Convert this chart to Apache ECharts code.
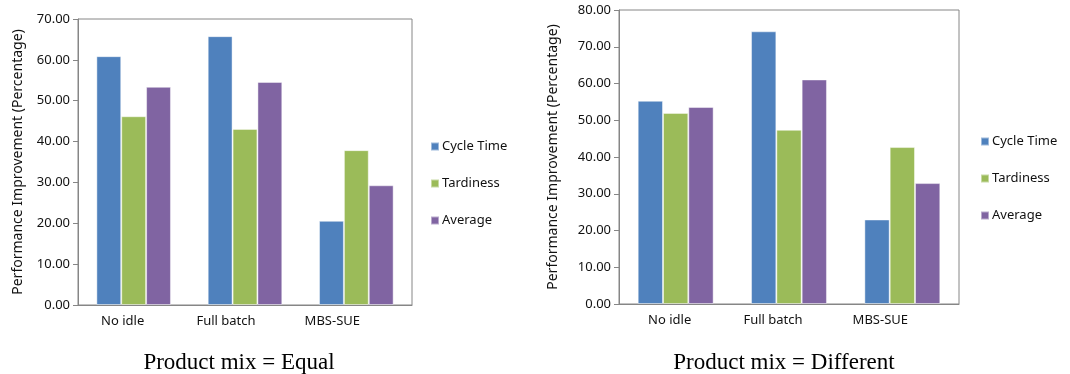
<!DOCTYPE html>
<html>
<head>
<meta charset="utf-8">
<script src="https://cdn.jsdelivr.net/npm/echarts@6/dist/echarts.min.js"></script>
<style>
  html, body { margin: 0; padding: 0; background: #fff; }
  #chart { width: 1070px; height: 374px; }
</style>
</head>
<body>
<div id="chart"></div>
<script>
// Heuristic categories and series shared by both panels
const categories = ['No idle', 'Full batch', 'MBS-SUE'];
const seriesNames = ['Cycle Time', 'Tardiness', 'Average'];
const seriesColors = ['#4F81BD', '#9BBB59', '#8064A2'];

// Product mix = Equal
const equalCycleTime = [60.9, 65.8, 20.6];
const equalTardiness = [46.2, 43.1, 37.9];
const equalAverage = [53.4, 54.6, 29.3];

// Product mix = Different
const diffCycleTime = [55.3, 74.2, 23.0];
const diffTardiness = [52.0, 47.4, 42.7];
const diffAverage = [53.6, 61.1, 32.9];

const panelTitles = ['Product mix = Equal', 'Product mix = Different'];
const yAxisTitle = 'Performance Improvement (Percentage)';

const axisColor = '#868686';
const textColor = '#111';
const textFont = '"Noto Sans", "Open Sans", sans-serif';

function yAxis(gridIndex, max, nameGap) {
  return {
    type: 'value', gridIndex, min: 0, max, interval: 10,
    name: yAxisTitle, nameLocation: 'middle', nameGap,
    nameTextStyle: { fontFamily: textFont, fontSize: 14, color: textColor },
    axisLine: { show: true, lineStyle: { color: axisColor } },
    axisTick: { show: true, length: 5, lineStyle: { color: axisColor } },
    splitLine: { show: false },
    axisLabel: { fontFamily: textFont, fontSize: 13, color: textColor, margin: 8,
                 formatter: v => v.toFixed(2) }
  };
}

// Category labels sit a little left of their bar groups; the right padding
// on each label pushes its centred text leftwards.
function xAxis(gridIndex, shifts) {
  const rich = {};
  shifts.forEach((s, i) => {
    rich['c' + i] = { fontFamily: textFont, fontSize: 13, color: textColor, padding: [0, 2 * s, 0, 0] };
  });
  return {
    type: 'category', gridIndex, data: categories,
    axisLine: { lineStyle: { color: axisColor } },
    axisTick: { show: false },
    axisLabel: { interval: 0, hideOverlap: false, fontFamily: textFont, fontSize: 13, color: textColor, margin: 10,
                 formatter: (v, i) => '{c' + i + '|' + v + '}', rich }
  };
}

function bars(values, idx, axisIndex) {
  return {
    type: 'bar', name: seriesNames[idx],
    xAxisIndex: axisIndex, yAxisIndex: axisIndex,
    data: values, barGap: '0%', barCategoryGap: '33%',
    itemStyle: { color: seriesColors[idx], borderColor: 'rgba(255,255,255,0.45)', borderWidth: 1 }
  };
}

function legend(left, top) {
  return {
    orient: 'vertical', left, top, data: seriesNames,
    icon: 'rect', itemWidth: 8, itemHeight: 8, itemGap: 24,
    selectedMode: false,
    textStyle: { fontFamily: textFont, fontSize: 13, color: textColor, padding: [0, 0, 0, -2] }
  };
}

const titleStyle = { fontFamily: '"Liberation Serif", serif', fontSize: 23, fontWeight: 'normal', color: '#000' };

const chart = echarts.init(document.getElementById('chart'), null, { renderer: 'canvas' });
chart.setOption({
  animation: false,
  backgroundColor: '#fff',
  title: [
    { text: panelTitles[0], left: 234, top: 346, textAlign: 'center', textStyle: titleStyle },
    { text: panelTitles[1], left: 779, top: 346, textAlign: 'center', textStyle: titleStyle }
  ],
  legend: [legend(425, 135), legend(975, 130)],
  grid: [
    { left: 78, top: 19, width: 334, height: 286, show: true, borderColor: axisColor, borderWidth: 1, backgroundColor: 'transparent' },
    { left: 619, top: 10, width: 340, height: 294, show: true, borderColor: axisColor, borderWidth: 1, backgroundColor: 'transparent' }
  ],
  xAxis: [xAxis(0, [11, 19, 24]), xAxis(1, [6, 16, 22])],
  yAxis: [yAxis(0, 70, 53), yAxis(1, 80, 59)],
  series: [
    bars(equalCycleTime, 0, 0), bars(equalTardiness, 1, 0), bars(equalAverage, 2, 0),
    bars(diffCycleTime, 0, 1), bars(diffTardiness, 1, 1), bars(diffAverage, 2, 1)
  ]
});
</script>
</body>
</html>
